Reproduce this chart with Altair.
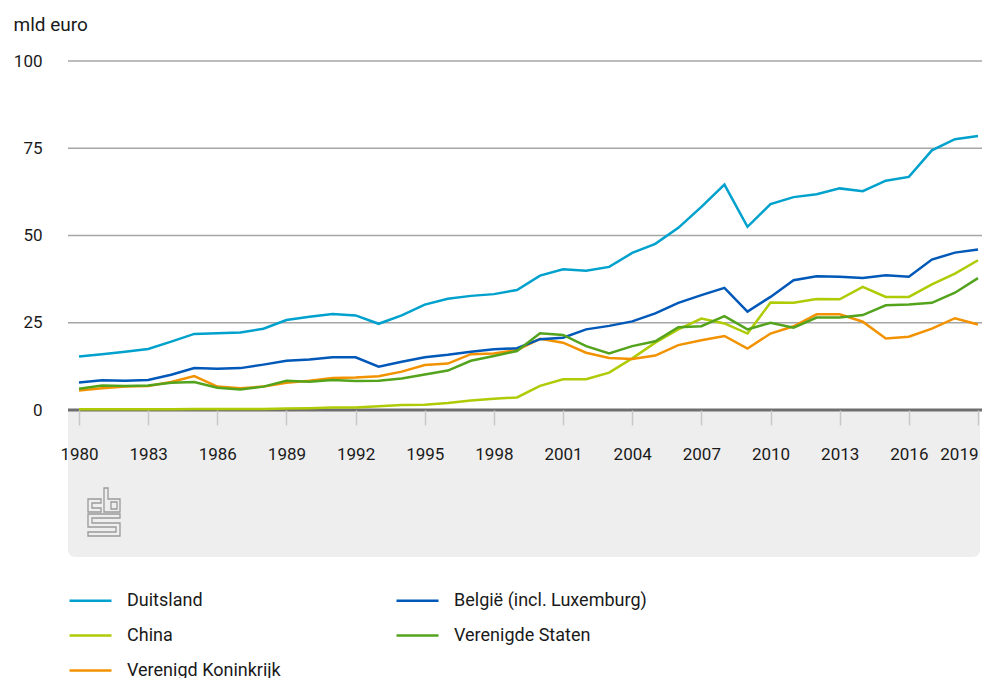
import altair as alt
import pandas as pd

years = list(range(1980, 2020))

duitsland = [15.3, 16.0, 16.7, 17.5, 19.6, 21.8, 22.0, 22.2, 23.3, 25.8,
             26.7, 27.5, 27.1, 24.7, 27.1, 30.2, 31.9, 32.7, 33.2, 34.4,
             38.5, 40.3, 39.9, 41.0, 45.0, 47.6, 52.2, 58.2, 64.6, 52.5,
             59.0, 61.0, 61.8, 63.5, 62.7, 65.7, 66.8, 74.4, 77.6, 78.5]
belgie = [7.9, 8.5, 8.4, 8.6, 10.1, 12.0, 11.8, 12.0, 13.0, 14.1,
          14.5, 15.1, 15.1, 12.4, 13.8, 15.1, 15.8, 16.7, 17.4, 17.7,
          20.3, 20.7, 23.1, 24.1, 25.4, 27.7, 30.7, 32.9, 35.0, 28.2,
          32.4, 37.2, 38.3, 38.2, 37.8, 38.6, 38.2, 43.1, 45.1, 46.0]
china = [0.2, 0.2, 0.2, 0.2, 0.2, 0.3, 0.3, 0.3, 0.3, 0.4,
         0.5, 0.7, 0.7, 1.1, 1.4, 1.5, 2.0, 2.7, 3.2, 3.6,
         6.9, 8.8, 8.8, 10.7, 14.8, 19.3, 23.1, 26.2, 24.8, 21.9,
         30.8, 30.7, 31.8, 31.7, 35.3, 32.4, 32.4, 36.0, 39.1, 42.9]
vs = [6.1, 7.0, 6.9, 7.0, 7.8, 8.0, 6.4, 5.9, 6.7, 8.4,
      8.1, 8.6, 8.3, 8.4, 9.0, 10.2, 11.3, 14.1, 15.5, 16.9,
      22.0, 21.5, 18.3, 16.2, 18.3, 19.7, 23.7, 24.0, 26.9, 23.1,
      25.0, 23.6, 26.5, 26.5, 27.2, 30.0, 30.2, 30.7, 33.6, 37.8]
vk = [5.6, 6.2, 6.7, 6.9, 8.0, 9.7, 6.7, 6.2, 6.7, 7.8,
      8.4, 9.2, 9.3, 9.7, 11.0, 12.9, 13.3, 16.0, 16.2, 17.2,
      20.4, 19.3, 16.4, 14.9, 14.6, 15.6, 18.6, 20.0, 21.2, 17.6,
      21.9, 24.0, 27.4, 27.4, 25.3, 20.5, 21.0, 23.3, 26.3, 24.5]

# legend is filled column by column: first column Duitsland, China, VK
names = ["Duitsland", "China", "Verenigd Koninkrijk",
         "België (incl. Luxemburg)", "Verenigde Staten"]
colors = ["#00a1cd", "#afcb05", "#f39200", "#0058b8", "#53a31d"]
series = [duitsland, china, vk, belgie, vs]

x_ticks = list(range(1980, 2020, 3))
y_ticks = [0, 25, 50, 75, 100]

rows = []
for name, vals in zip(names, series):
    for yr, v in zip(years, vals):
        rows.append({"jaar": yr, "land": name, "waarde": v})
df = pd.DataFrame(rows)

W = 914
H = 349
FONT = "Roboto"

xscale = alt.Scale(domain=[1979.523, 2019.174], nice=False, zero=False)
yscale = alt.Scale(domain=[0, 100], nice=False)

y_axis = alt.Axis(values=y_ticks, title="mld euro", titleAngle=0,
                  titleAlign="left", titleBaseline="alphabetic",
                  titleX=-55, titleY=-31, titleFontSize=19,
                  titleFont=FONT, titleFontWeight="normal",
                  titleColor="#1a1a1a", domain=False, ticks=False,
                  grid=False, tickSize=0, labelPadding=26,
                  labelFontSize=17, labelFont=FONT,
                  labelColor="#1a1a1a", zindex=1)

one = pd.DataFrame({"a": [0]})

panel = alt.Chart(one).mark_rect(
    color="#eeeeee", cornerRadiusBottomLeft=7, cornerRadiusBottomRight=7
).encode(
    x=alt.value(0), x2=alt.value(W - 2), y=alt.value(H), y2=alt.value(496)
)

grid = alt.Chart(pd.DataFrame({"waarde": y_ticks[1:]})).mark_rule(
    color="#a6a6a6", strokeWidth=1.5
).encode(
    y=alt.Y("waarde:Q", scale=yscale, axis=y_axis),
    x=alt.value(0), x2=alt.value(W)
)

baseline = alt.Chart(pd.DataFrame({"waarde": [0]})).mark_rule(
    color="#6e6e6e", strokeWidth=3
).encode(
    y=alt.Y("waarde:Q", scale=yscale, axis=y_axis),
    x=alt.value(0), x2=alt.value(W)
)

lines = alt.Chart(df).mark_line(strokeWidth=2.5).encode(
    x=alt.X("jaar:Q", scale=xscale,
            axis=alt.Axis(values=x_ticks, format="d", title=None, domain=False,
                          grid=False, ticks=True, tickColor="#c8c8c8",
                          tickWidth=1.5, tickSize=15, labelPadding=21,
                          labelFontSize=17, labelFont=FONT, labelColor="#1a1a1a",
                          labelFlush=8, zindex=1)),
    y=alt.Y("waarde:Q", scale=yscale, axis=y_axis),
    color=alt.Color("land:N", scale=alt.Scale(domain=names, range=colors),
                    legend=alt.Legend(title=None, orient="none", legendX=0,
                                      legendY=517, columns=2, padding=0,
                                      symbolType="stroke", symbolSize=1764,
                                      symbolStrokeWidth=2.5, labelOffset=14,
                                      labelFontSize=18, labelFont=FONT,
                                      labelColor="#1a1a1a", rowPadding=3,
                                      columnPadding=110, labelLimit=400)),
)

logo_path = ("M-0.646,-0.542 L-0.104,-0.542 L-0.104,-0.375 L-0.479,-0.375 "
             "L-0.479,-0.167 L-0.104,-0.167 L-0.104,0 L-0.646,0 Z "
             "M0.021,-1 L0.1875,-1 L0.1875,-0.542 L0.6875,-0.542 L0.6875,0 "
             "L0.021,0 Z M0.3125,-0.417 L0.5625,-0.417 L0.5625,-0.125 "
             "L0.3125,-0.125 Z "
             "M-0.646,0.083 L0.6875,0.083 L0.6875,0.25 L-0.479,0.25 "
             "L-0.479,0.458 L0.6875,0.458 L0.6875,1 L-0.646,1 L-0.646,0.833 "
             "L0.521,0.833 L0.521,0.625 L-0.646,0.625 Z")

logo = alt.Chart(one).mark_point(
    shape=logo_path, size=2304, filled=False, stroke="#9a9a9a",
    strokeWidth=1.3, opacity=1
).encode(x=alt.value(35.5), y=alt.value(451))

chart = alt.layer(panel, grid, baseline, lines, logo).properties(
    width=W, height=H,
    autosize=alt.AutoSizeParams(type="none"),
    padding={"left": 60, "top": 53, "right": 0, "bottom": 268},
    background="white",
).configure_view(stroke=None)

chart.save("out.html", embed_options={"renderer": "svg", "actions": False})
